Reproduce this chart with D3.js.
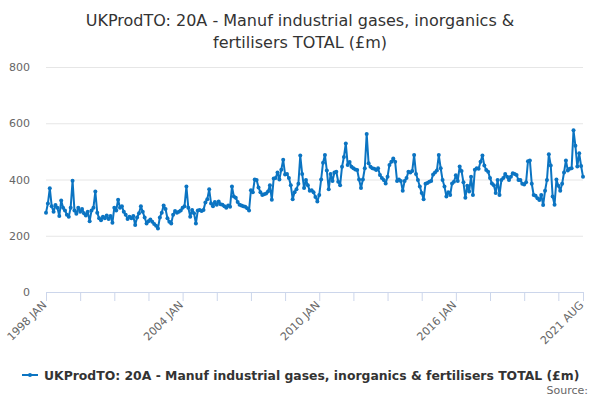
<!DOCTYPE html>
<head>
<meta charset="utf-8">
<style>
body{
    margin:0;
    background:#fff;
    font-family:"DejaVu Sans", Verdana, sans-serif;
}
</style>
<title>UKProdTO: 20A</title>
</head>

<body>
<svg id="chart" width="600" height="400"></svg>
<script src="https://d3js.org/d3.v7.min.js"></script>
<script>
// monthly values, 1998 JAN .. 2021 AUG (£m)
var startYear = 1998;
var values = [
 282,315,369,305,285,309,300,270,325,300,290,275,
 268,300,396,290,278,300,285,295,280,272,285,252,
 290,300,357,282,262,255,268,262,272,260,270,246,
 300,290,328,300,305,285,275,260,268,262,270,238,
 265,280,305,285,265,244,252,258,250,242,236,226,
 265,282,308,295,262,250,244,275,288,282,285,290,
 300,305,375,300,268,292,280,244,290,292,288,292,
 318,330,365,315,305,320,310,322,312,310,305,300,
 308,303,375,340,335,320,310,308,305,303,298,290,
 362,355,400,398,372,355,345,348,350,357,380,328,
 404,405,425,400,435,470,418,420,405,380,330,355,
 365,385,485,420,370,398,380,360,362,355,338,322,
 345,400,460,487,432,365,420,395,425,428,392,380,
 445,480,528,452,462,445,440,436,434,400,370,400,
 440,562,458,445,440,438,434,440,416,405,398,386,
 410,452,463,475,463,395,400,395,360,395,405,428,
 425,430,487,420,398,375,352,330,385,388,392,395,
 418,425,432,487,440,398,375,340,355,345,386,392,
 415,395,446,430,390,335,378,357,410,345,435,440,
 438,463,485,450,434,428,405,386,380,352,398,345,
 398,405,420,410,398,410,422,420,416,398,398,385,
 382,390,465,468,385,345,342,333,327,345,309,360,
 398,490,450,340,310,400,378,360,385,425,468,432,
 438,440,575,520,446,493,448,410
];
var yTicks = [0, 200, 400, 600, 800];
var xLabelIdx = [0, 72, 144, 216, 283];
var xLabels = ["1998 JAN", "2004 JAN", "2010 JAN", "2016 JAN", "2021 AUG"];
var titleLines = ["UKProdTO: 20A - Manuf industrial gases, inorganics &", "fertilisers TOTAL (£m)"];
var seriesName = "UKProdTO: 20A - Manuf industrial gases, inorganics & fertilisers TOTAL (£m)";

var lineColor = "#0b74c2";
var svg = d3.select("#chart");

var x = d3.scaleLinear().domain([0, values.length - 1]).range([46, 583]);
var y = d3.scaleLinear().domain([0, 800]).range([292, 67]);

// title
svg.append("g").selectAll("text").data(titleLines).enter().append("text")
    .attr("x", 300).attr("y", function(d, i){ return 26 + i * 22; })
    .attr("text-anchor", "middle")
    .attr("font-size", "16px").attr("fill", "#333")
    .text(function(d){ return d; });

// horizontal grid + y labels
var yAxis = d3.axisLeft(y).tickValues(yTicks).tickSize(-(583 - 46)).tickPadding(16);
var gy = svg.append("g").attr("transform", "translate(46,0)").call(yAxis);
gy.select(".domain").remove();
gy.selectAll(".tick line").attr("stroke", "#e6e6e6");
gy.selectAll(".tick").filter(function(d){ return d === 0; }).select("line").remove();
gy.selectAll("text").attr("fill", "#666").attr("font-size", "11px")
    .attr("font-family", "DejaVu Sans, sans-serif");

// x axis: tick every 18 months, labels at a few points
var tickIdx = d3.range(0, values.length, 18).concat([values.length - 1]);
var xAxis = d3.axisBottom(x).tickValues(tickIdx).tickSize(9)
    .tickFormat(function(d){ var k = xLabelIdx.indexOf(d); return k < 0 ? "" : xLabels[k]; });
var gx = svg.append("g").attr("transform", "translate(0,292)").call(xAxis);
gx.select(".domain").attr("stroke", "#ccd6eb");
gx.selectAll(".tick line").attr("stroke", "#ccd6eb");
gx.selectAll("text")
    .attr("fill", "#666").attr("font-size", "11px")
    .attr("font-family", "DejaVu Sans, sans-serif")
    .attr("text-anchor", "end")
    .attr("transform", "translate(-2,11) rotate(-45)")
    .attr("dy", "0.35em").attr("y", 0);

// the series
var line = d3.line()
    .x(function(d, i){ return x(i); })
    .y(function(d){ return y(d); });

svg.append("path").datum(values)
    .attr("fill", "none").attr("stroke", lineColor)
    .attr("stroke-width", 2).attr("stroke-linejoin", "round")
    .attr("d", line);

svg.append("g").selectAll("circle").data(values).enter().append("circle")
    .attr("cx", function(d, i){ return x(i); })
    .attr("cy", function(d){ return y(d); })
    .attr("r", 2).attr("fill", lineColor);

// legend
var leg = svg.append("g").attr("transform", "translate(0,375)");
leg.append("line").attr("x1", 22).attr("x2", 38).attr("y1", 0).attr("y2", 0)
    .attr("stroke", lineColor).attr("stroke-width", 2);
leg.append("circle").attr("cx", 30).attr("cy", 0).attr("r", 2).attr("fill", lineColor);
leg.append("text").attr("x", 44).attr("y", 4.5)
    .attr("font-size", "12.4px").attr("font-weight", "bold").attr("fill", "#333")
    .text(seriesName);

svg.append("text").attr("x", 588).attr("y", 394).attr("text-anchor", "end")
    .attr("font-size", "11px").attr("fill", "#666").text("Source:");
</script>
</body>
